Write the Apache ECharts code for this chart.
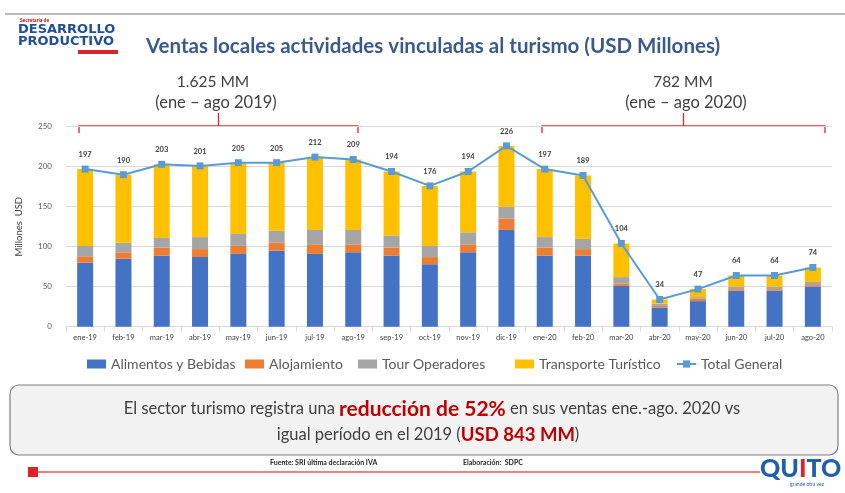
<!DOCTYPE html>
<html>
<head>
<meta charset="utf-8">
<script src="https://cdn.jsdelivr.net/npm/echarts@6/dist/echarts.min.js"></script>
<style>
  html, body { margin: 0; padding: 0; background: #ffffff; }
  #chart { width: 845px; height: 493px; }
</style>
</head>
<body>
<div id="chart"></div>
<script>
// Monthly local sales of tourism-related activities (USD millions)
const months = ['ene-19','feb-19','mar-19','abr-19','may-19','jun-19','jul-19','ago-19','sep-19','oct-19','nov-19','dic-19',
                'ene-20','feb-20','mar-20','abr-20','may-20','jun-20','jul-20','ago-20'];
const alimentos  = [80, 85, 89, 87, 91, 95, 91, 93, 89, 78, 93, 121, 89, 89, 51, 24, 32, 45, 45, 50];
const alojamiento = [8, 8, 10, 10, 10, 10, 12, 10, 10, 9, 10, 14, 10, 8, 3, 2, 3, 2, 2, 2];
const tourOperadores = [13, 12, 12, 15, 15, 15, 18, 18, 15, 14, 15, 15, 13, 13, 8, 3, 2, 3, 3, 4];
const transporte = [96, 85, 92, 89, 89, 85, 91, 88, 80, 75, 76, 76, 85, 79, 42, 5, 10, 14, 14, 18];
const totalGeneral = [197, 190, 203, 201, 205, 205, 212, 209, 194, 176, 194, 226, 197, 189, 104, 34, 47, 64, 64, 74];
const yTicks = { min: 0, max: 250, interval: 50 };

const FONT = 'Lato, "Open Sans", sans-serif';
const chart = echarts.init(document.getElementById('chart'), null, { renderer: 'canvas' });

function bar(name, data, color) {
  return {
    name, type: 'bar', stack: 'total', data, barWidth: 16,
    itemStyle: { color }, emphasis: { disabled: true }
  };
}

// One legend block per entry so each can sit at its own x
function legendItem(name, left, icon) {
  return {
    left, bottom: 122, padding: 0, itemWidth: 19, itemHeight: 9, selectedMode: false,
    textStyle: { fontSize: 14, color: '#595959', fontFamily: FONT },
    data: [{ name, icon }]
  };
}

// Red bracket shape above a range of months
function bracket(x1, x2, y, topY) {
  const cx = (x1 + x2) / 2;
  const st = { stroke: '#E8202A', lineWidth: 1.3, fill: null };
  return [
    { type: 'polyline', shape: { points: [[x1, y + 7], [x1, y], [x2, y], [x2, y + 7]] }, style: st, silent: true },
    { type: 'line', shape: { x1: cx, y1: y, x2: cx, y2: topY }, style: st, silent: true }
  ];
}

const option = {
  animation: false,
  textStyle: { fontFamily: FONT },
  grid: { left: 66, right: 13, top: 126.7, bottom: 166.3, containLabel: false },
  legend: [
    legendItem('Alimentos y Bebidas', 87, 'rect'),
    legendItem('Alojamiento', 245, 'rect'),
    legendItem('Tour Operadores', 358, 'rect'),
    legendItem('Transporte Turístico', 515, 'rect'),
    legendItem('Total General', 676, undefined)
  ],
  xAxis: {
    type: 'category', data: months, boundaryGap: true,
    axisLine: { lineStyle: { color: '#D9D9D9' } },
    axisTick: { show: true, length: 5, lineStyle: { color: '#D9D9D9' } },
    axisLabel: { fontSize: 7.5, color: '#404040', margin: 7, interval: 0 }
  },
  yAxis: {
    type: 'value', min: yTicks.min, max: yTicks.max, interval: yTicks.interval,
    name: 'Millones  USD', nameLocation: 'middle', nameGap: 42, nameRotate: 90,
    nameTextStyle: { fontSize: 9.5, color: '#404040' },
    axisLine: { show: false }, axisTick: { show: false },
    axisLabel: { fontSize: 8, color: '#595959', margin: 14 },
    splitLine: { lineStyle: { color: '#D9D9D9', width: 1 } }
  },
  series: [
    bar('Alimentos y Bebidas', alimentos, '#4472C4'),
    bar('Alojamiento', alojamiento, '#ED7D31'),
    bar('Tour Operadores', tourOperadores, '#A5A5A5'),
    bar('Transporte Turístico', transporte, '#FFC000'),
    {
      name: 'Total General', type: 'line', data: totalGeneral,
      symbol: 'rect', symbolSize: 7, z: 10,
      lineStyle: { color: '#5B9BD5', width: 2 },
      itemStyle: { color: '#5B9BD5' },
      label: { show: true, position: 'top', distance: 7, fontSize: 7.5, fontWeight: 'bold', color: '#404040' },
      emphasis: { disabled: true }
    }
  ],
  graphic: [
    // top rule
    { type: 'line', shape: { x1: 5, y1: 14, x2: 845, y2: 14 }, style: { stroke: '#A6A6A6', lineWidth: 1.5 }, silent: true },
    // institution logo
    { type: 'text', left: 20, top: 18, style: { text: 'Secretaría de', fontSize: 5, fontWeight: 'bold', fill: '#C00000', fontFamily: FONT } },
    { type: 'text', left: 18, top: 23, style: { text: 'DESARROLLO\nPRODUCTIVO', fontSize: 13, lineHeight: 12.5, fontWeight: 900, fill: '#1F4E9A', fontFamily: '"DejaVu Sans", sans-serif' } },
    { type: 'rect', shape: { x: 78, y: 50, width: 40, height: 4 }, style: { fill: '#D9262E' }, silent: true },
    // title
    { type: 'text', left: 146, top: 36, style: { text: 'Ventas locales actividades vinculadas al turismo (USD Millones)', fontSize: 20.5, fontWeight: 'bold', fill: '#3A5A8C', fontFamily: FONT } },
    // period annotations
    { type: 'text', x: 213, y: 82, style: { text: '1.625 MM', fontSize: 15.5, fill: '#404040', align: 'center', verticalAlign: 'middle', fontFamily: FONT } },
    { type: 'text', x: 216, y: 103, style: { text: '(ene – ago 2019)', fontSize: 16.5, fill: '#404040', align: 'center', verticalAlign: 'middle', fontFamily: FONT } },
    { type: 'text', x: 683, y: 82, style: { text: '782 MM', fontSize: 15.5, fill: '#404040', align: 'center', verticalAlign: 'middle', fontFamily: FONT } },
    { type: 'text', x: 686, y: 103, style: { text: '(ene – ago 2020)', fontSize: 16.5, fill: '#404040', align: 'center', verticalAlign: 'middle', fontFamily: FONT } },
    ...bracket(79, 358, 126, 113),
    ...bracket(542, 825, 126, 113),
    // summary box
    { type: 'rect', shape: { x: 10, y: 385, width: 828, height: 70, r: 9 }, style: { fill: '#F2F2F2', stroke: '#7F7F7F', lineWidth: 1.2 }, silent: true },
    { type: 'text', x: 432, y: 409, style: {
        text: '{n|El sector turismo registra una }{r|reducción de 52%}{n| en sus ventas ene.-ago. 2020 vs}',
        align: 'center', verticalAlign: 'middle',
        rich: {
          n: { fontSize: 16.5, fill: '#404040', fontFamily: FONT },
          r: { fontSize: 21, fill: '#C00000', fontWeight: 'bold', fontFamily: FONT }
        } } },
    { type: 'text', x: 428, y: 435, style: {
        text: '{n|igual período en el 2019 (}{r|USD 843 MM}{n|)}',
        align: 'center', verticalAlign: 'middle',
        rich: {
          n: { fontSize: 16.5, fill: '#404040', fontFamily: FONT },
          r: { fontSize: 18.5, fill: '#C00000', fontWeight: 'bold', fontFamily: FONT }
        } } },
    // source line
    { type: 'text', left: 270, top: 459, style: { text: 'Fuente: SRI última declaración IVA', fontSize: 7, fontWeight: 'bold', fill: '#262626', fontFamily: FONT } },
    { type: 'text', left: 463, top: 459, style: { text: 'Elaboración:  SDPC', fontSize: 7, fontWeight: 'bold', fill: '#262626', fontFamily: FONT } },
    // footer rule and city brand
    { type: 'line', shape: { x1: 34, y1: 472, x2: 760, y2: 472 }, style: { stroke: '#F08080', lineWidth: 2 }, silent: true },
    { type: 'rect', shape: { x: 28, y: 467, width: 10, height: 10 }, style: { fill: '#E0202A' }, silent: true },
    { type: 'text', left: 760, top: 456, style: { text: '{b|QU}{r|I}{b|TO}', rich: {
        b: { fontSize: 25, fontWeight: 900, fill: '#1F5FAE', fontFamily: FONT },
        r: { fontSize: 25, fontWeight: 900, fill: '#E0202A', fontFamily: FONT } } } },
    { type: 'text', left: 790, top: 482, style: { text: 'grande otra vez', fontSize: 5, fill: '#1F5FAE', fontFamily: FONT } }
  ]
};

chart.setOption(option);
</script>
</body>
</html>
